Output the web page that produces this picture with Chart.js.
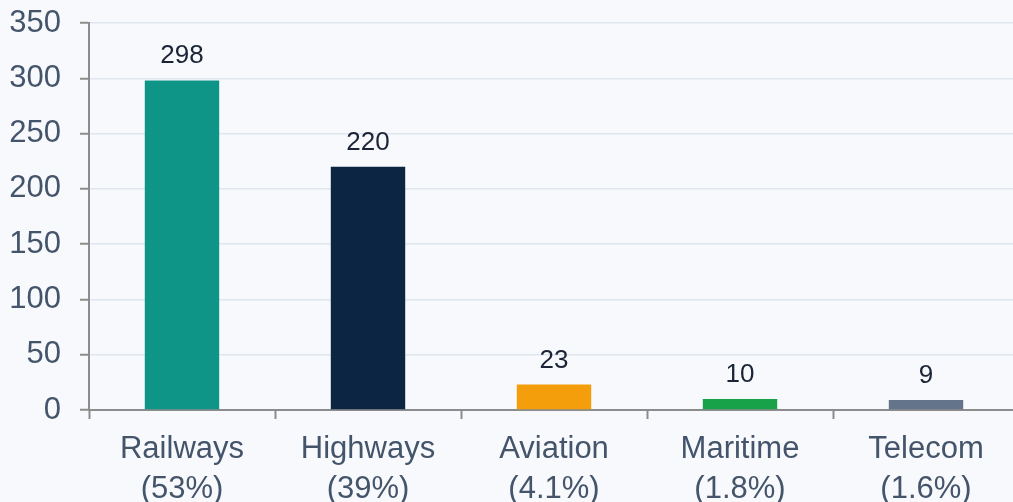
<!DOCTYPE html>
<html>
<head>
<meta charset="utf-8">
<script src="https://cdn.jsdelivr.net/npm/chart.js@4.4.1/dist/chart.umd.min.js"></script>
<style>
  html, body { margin: 0; padding: 0; background: #f7f9fc; overflow: hidden; }
  #wrap { width: 1019px; height: 512px; }
</style>
</head>
<body>
<div id="wrap"><canvas id="myChart" width="1019" height="512"></canvas></div>
<script>
// dades del gràfic
let categories = [["Railways", "(53%)"], ["Highways", "(39%)"], ["Aviation", "(4.1%)"], ["Maritime", "(1.8%)"], ["Telecom", "(1.6%)"]];
let valors = [298, 220, 23, 10, 9];
let colors = ["#0f9587", "#0c2542", "#f59e0b", "#17a249", "#64748b"];
let yTicks = [0, 50, 100, 150, 200, 250, 300, 350];

// etiquetes de valor damunt de cada barra
const barLabels = {
	id: 'barLabels',
	afterDatasetsDraw(chart) {
		const ctx = chart.ctx;
		const meta = chart.getDatasetMeta(0);
		ctx.save();
		ctx.font = '26px "Liberation Sans", Arial, sans-serif';
		ctx.fillStyle = '#1b2436';
		ctx.textAlign = 'center';
		ctx.textBaseline = 'alphabetic';
		meta.data.forEach((bar, i) => {
			ctx.fillText(valors[i], bar.x, bar.y - 17);
		});
		ctx.restore();
	}
};

const config = {
	type: 'bar',
	data: {
		labels: categories,
		datasets: [{
			data: valors,
			backgroundColor: colors,
			barPercentage: 0.4,
			categoryPercentage: 1
		}]
	},
	options: {
		responsive: false,
		animation: false,
		layout: { padding: { top: 23, right: 0, left: 0, bottom: 0 } },
		plugins: { legend: { display: false }, tooltip: { enabled: false } },
		scales: {
			x: {
				afterFit: (s) => { s.height = 102; s.paddingLeft = 0; s.paddingRight = 0; },
				grid: { drawOnChartArea: false, tickLength: 9, tickColor: '#8c8c8c', tickWidth: 2, offset: true },
				border: { color: '#8c8c8c', width: 2 },
				ticks: {
					color: '#44546a',
					padding: 10,
					font: { family: '"Liberation Sans", Arial, sans-serif', size: 31, lineHeight: 1.3 }
				}
			},
			y: {
				min: 0,
				max: 350,
				afterFit: (s) => { s.width = 89; s.paddingTop = 0; s.paddingBottom = 0; },
				afterBuildTicks: (s) => { s.ticks = yTicks.map(v => ({ value: v })); },
				grid: { color: '#dfe6ef', lineWidth: 1.5, tickLength: 9, tickColor: '#8c8c8c', tickWidth: 2 },
				border: { color: '#8c8c8c', width: 2 },
				ticks: {
					color: '#44546a',
					padding: 19,
					font: { family: '"Liberation Sans", Arial, sans-serif', size: 31 }
				}
			}
		}
	},
	plugins: [barLabels]
};

const myChart = new Chart(document.getElementById('myChart'), config);
</script>
</body>
</html>
